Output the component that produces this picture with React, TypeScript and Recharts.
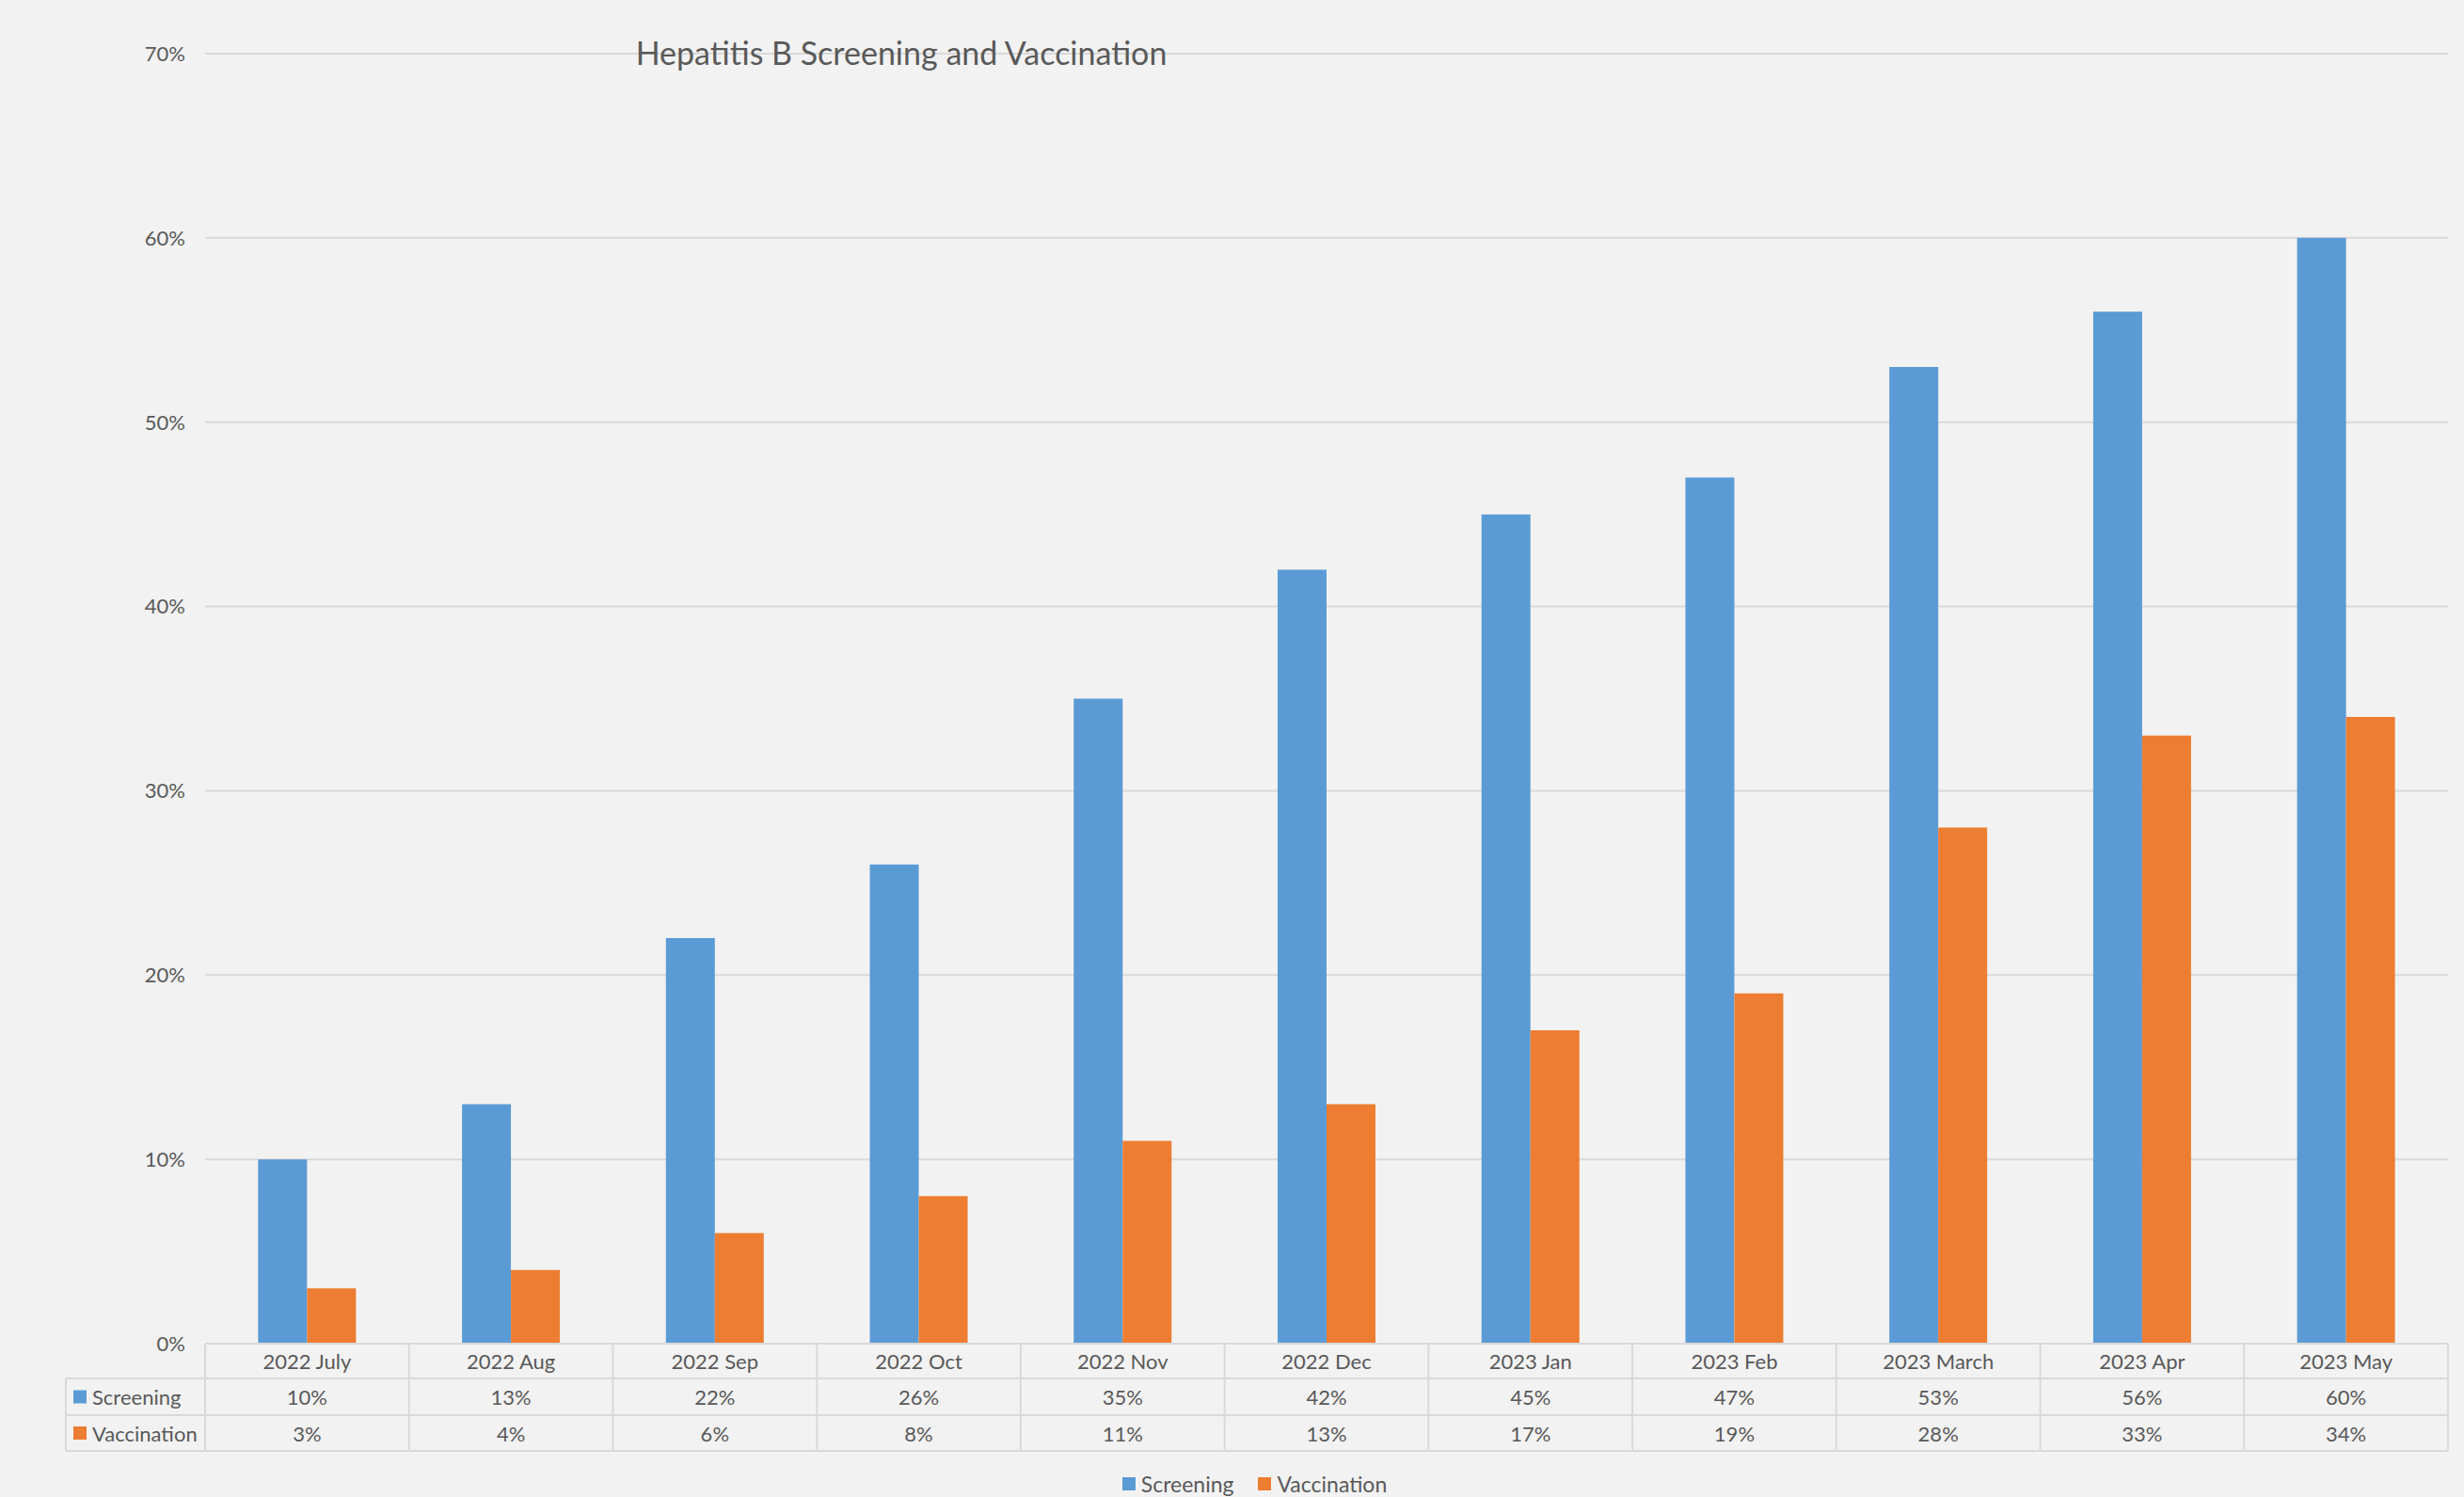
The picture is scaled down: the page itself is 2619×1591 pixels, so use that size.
import { BarChart, Bar, XAxis, YAxis, CartesianGrid } from "recharts";

const months = [
  "2022 July",
  "2022 Aug",
  "2022 Sep",
  "2022 Oct",
  "2022 Nov",
  "2022 Dec",
  "2023 Jan",
  "2023 Feb",
  "2023 March",
  "2023 Apr",
  "2023 May",
];
const screening = [10, 13, 22, 26, 35, 42, 45, 47, 53, 56, 60];
const vaccination = [3, 4, 6, 8, 11, 13, 17, 19, 28, 33, 34];
const yTicks = [0, 10, 20, 30, 40, 50, 60, 70];

const series = [
  { key: "screening", name: "Screening", color: "#5b9bd5", values: screening },
  { key: "vaccination", name: "Vaccination", color: "#ed7d31", values: vaccination },
];

const W = 2619;
const H = 1591;
const PLOT_LEFT = 218;
const PLOT_RIGHT = 17;
const COL_W = (W - PLOT_LEFT - PLOT_RIGHT) / months.length;
const ROWS = [0, 37, 76, 114];
const TABLE_LEFT = 70;
const GRID = "#d9d9d9";
const TEXT = "#595959";
const FONT = "Lato, 'Open Sans', sans-serif";
const FS = 22;

const data = months.map((m, i) => ({
  month: m,
  screening: screening[i],
  vaccination: vaccination[i],
}));

// draws one column of the data table under the x axis
function TableTick(props: any) {
  const { x, y, index, payload } = props;
  const half = COL_W / 2;
  const mid = (r: number) => y + (ROWS[r] + ROWS[r + 1]) / 2;
  return (
    <g>
      {index === 0 && (
        <g>
          <line x1={x - half} y1={y} x2={x - half} y2={y + ROWS[3]} stroke={GRID} strokeWidth={2} />
          <line x1={TABLE_LEFT} y1={y + ROWS[1]} x2={x - half} y2={y + ROWS[1]} stroke={GRID} strokeWidth={2} />
          <line x1={TABLE_LEFT} y1={y + ROWS[2]} x2={x - half} y2={y + ROWS[2]} stroke={GRID} strokeWidth={2} />
          <line x1={TABLE_LEFT} y1={y + ROWS[3]} x2={x - half} y2={y + ROWS[3]} stroke={GRID} strokeWidth={2} />
          <line x1={TABLE_LEFT} y1={y + ROWS[1]} x2={TABLE_LEFT} y2={y + ROWS[3]} stroke={GRID} strokeWidth={2} />
          {series.map((s, r) => (
            <g key={s.key}>
              <rect x={TABLE_LEFT + 8} y={mid(r + 1) - 7} width={14} height={14} fill={s.color} />
              <text
                x={TABLE_LEFT + 28}
                y={mid(r + 1)}
                dominantBaseline="central"
                fill={TEXT}
                fontSize={FS}
                fontFamily={FONT}
              >
                {s.name}
              </text>
            </g>
          ))}
        </g>
      )}
      <line x1={x + half} y1={y} x2={x + half} y2={y + ROWS[3]} stroke={GRID} strokeWidth={2} />
      {[1, 2, 3].map((r) => (
        <line key={r} x1={x - half} y1={y + ROWS[r]} x2={x + half} y2={y + ROWS[r]} stroke={GRID} strokeWidth={2} />
      ))}
      <text x={x} y={mid(0)} textAnchor="middle" dominantBaseline="central" fill={TEXT} fontSize={FS} fontFamily={FONT}>
        {payload.value}
      </text>
      {series.map((s, r) => (
        <text
          key={s.key}
          x={x}
          y={mid(r + 1)}
          textAnchor="middle"
          dominantBaseline="central"
          fill={TEXT}
          fontSize={FS}
          fontFamily={FONT}
        >
          {s.values[index]}%
        </text>
      ))}
    </g>
  );
}

export default function App() {
  return (
    <div
      style={{
        position: "absolute",
        left: 0,
        top: 0,
        width: W,
        height: H,
        background: "#f2f2f2",
        fontFamily: FONT,
        color: TEXT,
      }}
    >
      <BarChart
        width={W}
        height={H}
        data={data}
        margin={{ top: 57, right: PLOT_RIGHT, bottom: 49, left: 0 }}
        barCategoryGap="26%"
        barGap={0}
      >
        <CartesianGrid vertical={false} stroke={GRID} strokeWidth={2} />
        <XAxis
          dataKey="month"
          height={114}
          interval={0}
          tickLine={false}
          tickSize={0}
          tickMargin={0}
          axisLine={{ stroke: GRID, strokeWidth: 2 }}
          tick={<TableTick />}
        />
        <YAxis
          width={PLOT_LEFT}
          domain={[0, 70]}
          ticks={yTicks}
          axisLine={false}
          tickLine={false}
          tickSize={0}
          tickMargin={21}
          tickFormatter={(v: number) => `${v}%`}
          tick={{ fill: TEXT, fontSize: FS, fontFamily: FONT }}
        />
        {series.map((s) => (
          <Bar key={s.key} dataKey={s.key} name={s.name} fill={s.color} isAnimationActive={false} />
        ))}
      </BarChart>
      <div
        style={{
          position: "absolute",
          left: 958,
          top: 55,
          transform: "translate(-50%, -50%)",
          fontSize: 34,
          whiteSpace: "nowrap",
          color: TEXT,
        }}
      >
        Hepatitis B Screening and Vaccination
      </div>
      <div
        style={{
          position: "absolute",
          left: 48,
          width: W - 48,
          top: 1577,
          transform: "translateY(-50%)",
          display: "flex",
          justifyContent: "center",
          gap: 26,
          fontSize: 23,
        }}
      >
        {series.map((s) => (
          <div key={s.key} style={{ display: "flex", alignItems: "center", gap: 6 }}>
            <div style={{ width: 14, height: 14, background: s.color }} />
            <span>{s.name}</span>
          </div>
        ))}
      </div>
    </div>
  );
}
